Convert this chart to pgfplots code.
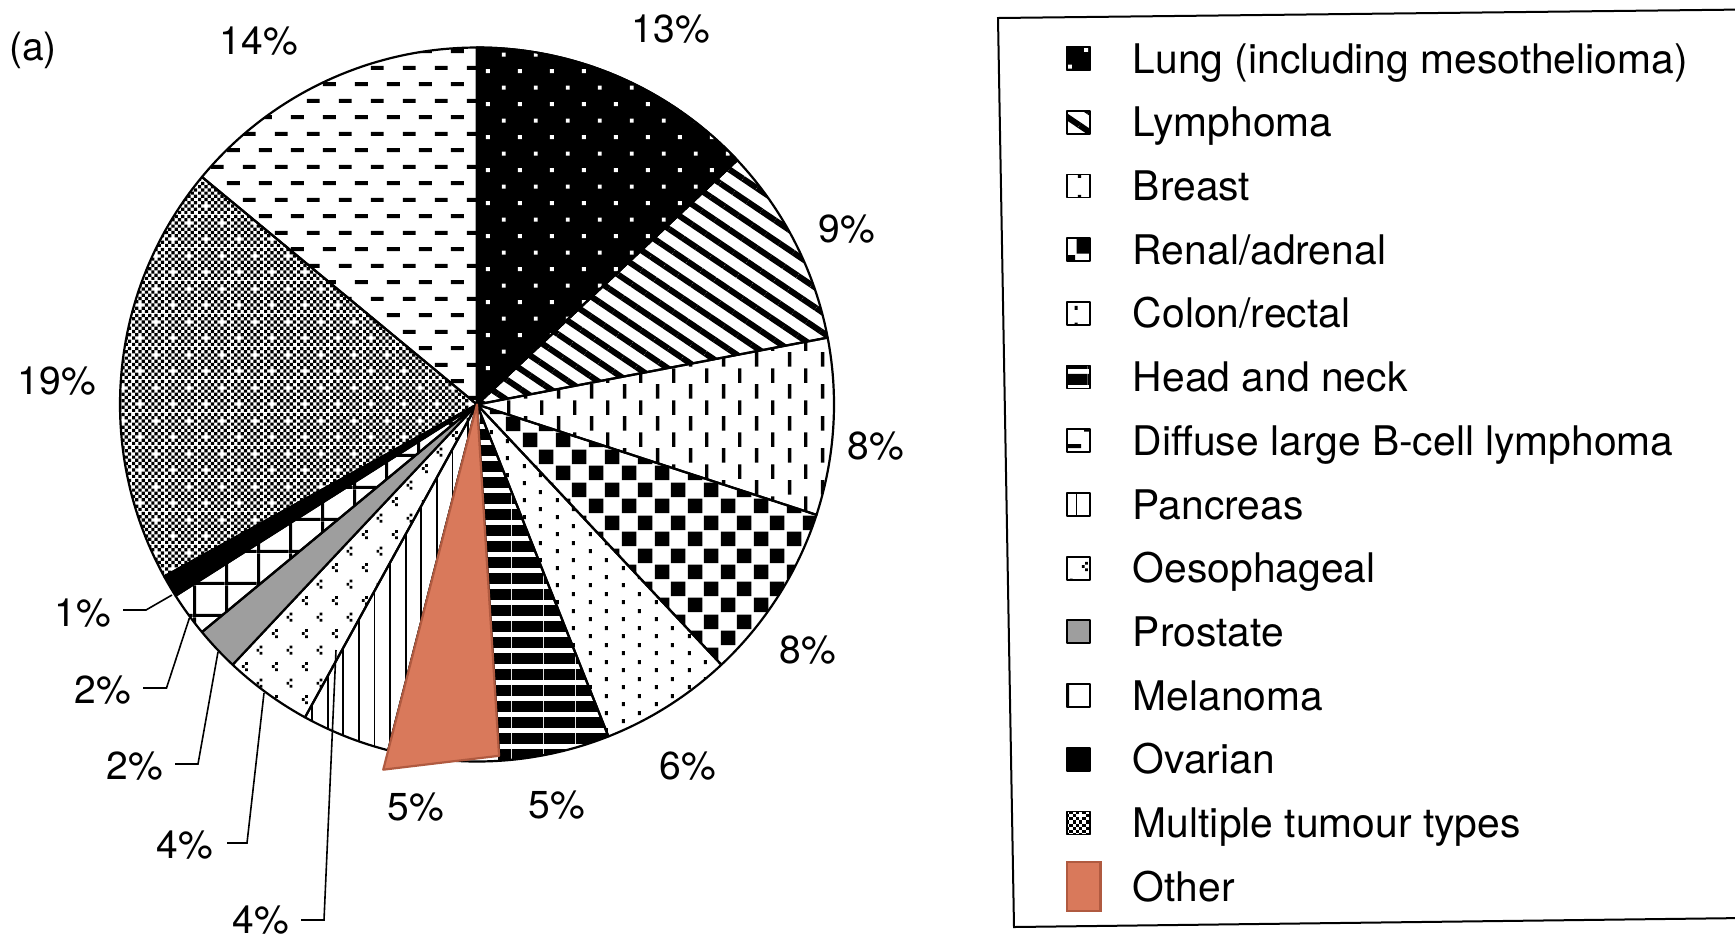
\documentclass[border=0pt]{standalone}
\usepackage{fontspec}
\setmainfont{TeX Gyre Heros}
\usepackage{pgfplots}
\pgfplotsset{compat=1.18}
\usepackage{pgfplotstable}
\usetikzlibrary{patterns,patterns.meta}

\definecolor{otherfill}{RGB}{217,121,91}
\definecolor{otheredge}{RGB}{176,90,64}

% Slice fills (one layout pixel = 0.5pt)
\pgfdeclarepatternformonly{lungdots}{\pgfqpoint{0pt}{0pt}}{\pgfqpoint{16.15pt}{16.7pt}}{\pgfqpoint{16.15pt}{16.7pt}}{%
  \pgfpathrectangle{\pgfqpoint{1pt}{1pt}}{\pgfqpoint{2pt}{2pt}}%
  \pgfpathrectangle{\pgfqpoint{9.07pt}{9.35pt}}{\pgfqpoint{2pt}{2pt}}%
  \pgfusepath{fill}}
\pgfdeclarepatternformonly{vdashes}{\pgfqpoint{0pt}{0pt}}{\pgfqpoint{16.3pt}{15.85pt}}{\pgfqpoint{16.3pt}{15.85pt}}{%
  \pgfpathrectangle{\pgfqpoint{1pt}{0.2pt}}{\pgfqpoint{1.7pt}{7.3pt}}%
  \pgfpathrectangle{\pgfqpoint{9.15pt}{8.1pt}}{\pgfqpoint{1.7pt}{7.3pt}}%
  \pgfusepath{fill}}
\pgfdeclarepatternformonly{checker}{\pgfqpoint{0pt}{0pt}}{\pgfqpoint{16.3pt}{16.3pt}}{\pgfqpoint{16.3pt}{16.3pt}}{%
  \pgfpathrectangle{\pgfqpoint{0.4pt}{0.4pt}}{\pgfqpoint{7.35pt}{7.35pt}}%
  \pgfpathrectangle{\pgfqpoint{8.55pt}{8.55pt}}{\pgfqpoint{7.35pt}{7.35pt}}%
  \pgfusepath{fill}}
\pgfdeclarepatternformonly{smalldots}{\pgfqpoint{0pt}{0pt}}{\pgfqpoint{16.25pt}{8.25pt}}{\pgfqpoint{16.25pt}{8.25pt}}{%
  \pgfpathrectangle{\pgfqpoint{1pt}{1pt}}{\pgfqpoint{1.5pt}{2pt}}%
  \pgfpathrectangle{\pgfqpoint{9.1pt}{5.1pt}}{\pgfqpoint{1.5pt}{2pt}}%
  \pgfusepath{fill}}
\pgfdeclarepatternformonly{hbars}{\pgfqpoint{0pt}{0pt}}{\pgfqpoint{16pt}{8.15pt}}{\pgfqpoint{16pt}{8.15pt}}{%
  \pgfpathrectangle{\pgfqpoint{0pt}{0.6pt}}{\pgfqpoint{16pt}{5.65pt}}%
  \pgfusepath{fill}}
\pgfdeclarepatternformonly{hdashes}{\pgfqpoint{0pt}{0pt}}{\pgfqpoint{16.15pt}{16.3pt}}{\pgfqpoint{16.15pt}{16.3pt}}{%
  \pgfpathrectangle{\pgfqpoint{1pt}{1pt}}{\pgfqpoint{6.6pt}{2pt}}%
  \pgfpathrectangle{\pgfqpoint{9.07pt}{9.15pt}}{\pgfqpoint{6.6pt}{2pt}}%
  \pgfusepath{fill}}
\pgfdeclarepatternformonly{squaregrid}{\pgfqpoint{0pt}{0pt}}{\pgfqpoint{16.15pt}{16.15pt}}{\pgfqpoint{16.15pt}{16.15pt}}{%
  \pgfpathrectangle{\pgfqpoint{0pt}{0pt}}{\pgfqpoint{1.6pt}{16.15pt}}%
  \pgfpathrectangle{\pgfqpoint{0pt}{0pt}}{\pgfqpoint{16.15pt}{1.6pt}}%
  \pgfusepath{fill}}
\pgfdeclarepatternformonly{chevrons}{\pgfqpoint{0pt}{0pt}}{\pgfqpoint{15pt}{16.67pt}}{\pgfqpoint{15pt}{16.67pt}}{%
  \pgfpathrectangle{\pgfqpoint{2.6pt}{1pt}}{\pgfqpoint{1.4pt}{1.4pt}}%
  \pgfpathrectangle{\pgfqpoint{1pt}{2.6pt}}{\pgfqpoint{1.4pt}{1.4pt}}%
  \pgfpathrectangle{\pgfqpoint{2.6pt}{4.2pt}}{\pgfqpoint{1.4pt}{1.4pt}}%
  \pgfpathrectangle{\pgfqpoint{10.1pt}{9.33pt}}{\pgfqpoint{1.4pt}{1.4pt}}%
  \pgfpathrectangle{\pgfqpoint{8.5pt}{10.93pt}}{\pgfqpoint{1.4pt}{1.4pt}}%
  \pgfpathrectangle{\pgfqpoint{10.1pt}{12.53pt}}{\pgfqpoint{1.4pt}{1.4pt}}%
  \pgfusepath{fill}}
\pgfdeclarepatternformonly{finecheck}{\pgfqpoint{0pt}{0pt}}{\pgfqpoint{16.5pt}{16.5pt}}{\pgfqpoint{16.5pt}{16.5pt}}{%
  \foreach \ci in {0,...,9}{%
    \foreach \ck in {0,...,4}{%
      \pgfmathtruncatemacro\cj{2*\ck+mod(\ci,2)}%
      \pgfmathtruncatemacro\cgap{((\ci==2)&&(\cj==2))||((\ci==7)&&(\cj==7))}%
      \ifnum\cgap=0
        \pgfpathrectangle{\pgfpoint{\ci*1.65pt}{\cj*1.65pt}}{\pgfqpoint{1.65pt}{1.65pt}}%
        \pgfusepath{fill}%
      \fi}}}

% Share of each tumour type, in the clockwise order of the slices
\pgfplotstableread{
name         pct
Lung         13
Lymphoma     9
Breast       8
Renal        8
Colon        6
HeadNeck     5
Other        5
Pancreas     4
Oesophageal  4
Prostate     2
Melanoma     2
Ovarian      1
Multiple     19
DLBCL        14
}\slicetable

\pgfplotsset{
  slice/.style={draw=black, line width=1.1pt, line join=round},
  sLung/.style={slice, preaction={fill=black}, pattern=lungdots, pattern color=white},
  sLymphoma/.style={slice, pattern={Lines[angle=-34,distance=8.3pt,line width=3pt]}},
  sBreast/.style={slice, pattern=vdashes},
  sRenal/.style={slice, pattern=checker},
  sColon/.style={slice, pattern=smalldots},
  sHeadNeck/.style={slice, pattern=hbars},
  sOther/.style={slice, fill=white},
  sPancreas/.style={slice, pattern={Lines[angle=90,distance=7.8pt,line width=0.9pt]}},
  sOesophageal/.style={slice, pattern=chevrons},
  sProstate/.style={slice, fill=black!38},
  sMelanoma/.style={slice, pattern=squaregrid},
  sOvarian/.style={slice, fill=black},
  sMultiple/.style={slice, pattern=finecheck},
  sDLBCL/.style={slice, pattern=hdashes},
  % legend swatches: a small square, with the cell kept 33pt wide
  swatch/.style={legend image code/.code={%
    \pgfpathrectangle{\pgfqpoint{0pt}{-5.75pt}}{\pgfqpoint{33pt}{11.5pt}}\pgfusepath{discard}%
    \draw[##1, line width=0.9pt] (0pt,-5.75pt) rectangle (11.5pt,5.75pt);}},
  bigswatch/.style={legend image code/.code={%
    \pgfpathrectangle{\pgfqpoint{0pt}{-5.75pt}}{\pgfqpoint{33pt}{11.5pt}}\pgfusepath{discard}%
    \draw[##1, overlay, line width=1.2pt] (0pt,-12.25pt) rectangle (16.85pt,12.25pt);}},
}

\newcommand\labfont{\fontsize{19.5}{22}\selectfont}
\def\cx{477}
\def\cy{404.5}
\def\rr{357}

\begin{document}
\begin{tikzpicture}
\begin{axis}[
  width=867.5pt, height=469.5pt, scale only axis,
  xmin=0, xmax=1735, ymin=0, ymax=939, y dir=reverse,
  hide axis,
  legend cell align=left,
  legend style={draw=none, fill=none, at={(0.6144,0.95325)}, anchor=north west,
    inner sep=0pt, outer sep=0pt, row sep=17.25pt,
    font=\fontsize{20.4}{24}\selectfont,
    nodes={inner sep=0pt, text height=14.6pt, text depth=0pt}},
  swatch,
]
% slices, clockwise from twelve o'clock
\gdef\startang{0}
\pgfplotsforeachungrouped \i in {0,...,13}{%
  \pgfplotstablegetelem{\i}{pct}\of\slicetable
  \let\thispct\pgfplotsretval
  \pgfplotstablegetelem{\i}{name}\of\slicetable
  \let\thisname\pgfplotsretval
  \pgfmathsetmacro\endang{\startang+3.6*\thispct}%
  \edef\doslice{\noexpand\addplot[s\thisname, domain=\startang:\endang, samples=60,
      variable=\noexpand\t, forget plot]
    ({\cx+\rr*sin(\noexpand\t)}, {\cy-\rr*cos(\noexpand\t)}) -- (axis cs:\cx,\cy) -- cycle;}%
  \doslice
  \ifnum\i=6 \global\let\otherA\startang \global\let\otherB\endang \fi
  \global\let\startang\endang
}
% the highlighted "Other" slice
\pgfmathsetmacro\oxa{\cx+352*sin(\otherA)}
\pgfmathsetmacro\oya{\cy-352*cos(\otherA)}
\pgfmathsetmacro\oxb{\cx+377*sin(\otherB)}
\pgfmathsetmacro\oyb{\cy-377*cos(\otherB)}
\edef\dotri{\noexpand\addplot[fill=otherfill, draw=otheredge, line width=1.1pt, line join=round, forget plot]
  coordinates {(\cx,\cy) (\oxa,\oya) (\oxb,\oyb)} -- cycle;}
\dotri

% legend
\addlegendimage{sLung}\addlegendentry{Lung (including mesothelioma)}
\addlegendimage{sLymphoma}\addlegendentry{Lymphoma}
\addlegendimage{sBreast}\addlegendentry{Breast}
\addlegendimage{sRenal}\addlegendentry{Renal/adrenal}
\addlegendimage{sColon}\addlegendentry{Colon/rectal}
\addlegendimage{sHeadNeck}\addlegendentry{Head and neck}
\addlegendimage{sDLBCL}\addlegendentry{Diffuse large B-cell lymphoma}
\addlegendimage{sPancreas}\addlegendentry{Pancreas}
\addlegendimage{sOesophageal}\addlegendentry{Oesophageal}
\addlegendimage{sProstate}\addlegendentry{Prostate}
\addlegendimage{sMelanoma}\addlegendentry{Melanoma}
\addlegendimage{sOvarian}\addlegendentry{Ovarian}
\addlegendimage{sMultiple}\addlegendentry{Multiple tumour types}
\addlegendimage{fill=otherfill, draw=otheredge, bigswatch}\addlegendentry{Other}

% percentage labels
\node[font=\labfont] at (axis cs:671,29) {13\%};
\node[font=\labfont] at (axis cs:847,229) {9\%};
\node[font=\labfont] at (axis cs:876,446) {8\%};
\node[font=\labfont] at (axis cs:808,650) {8\%};
\node[font=\labfont] at (axis cs:688,766) {6\%};
\node[font=\labfont] at (axis cs:557,805) {5\%};
\node[font=\labfont] at (axis cs:416,807) {5\%};
\node[font=\labfont] at (axis cs:261,920) {4\%};
\node[font=\labfont] at (axis cs:185,845) {4\%};
\node[font=\labfont] at (axis cs:135,766) {2\%};
\node[font=\labfont] at (axis cs:103,690) {2\%};
\node[font=\labfont] at (axis cs:83,613) {1\%};
\node[font=\labfont] at (axis cs:57,381) {19\%};
\node[font=\labfont] at (axis cs:259,41) {14\%};
\node[font=\fontsize{19.5}{23}\selectfont] at (axis cs:33,50) {(a)};

% leader lines for the thin slices
\draw[line width=0.8pt] (axis cs:123,610) -- (axis cs:146,610) -- (axis cs:172,595);
\draw[line width=0.8pt] (axis cs:143,688) -- (axis cs:166.5,688) -- (axis cs:189.4,618);
\draw[line width=0.8pt] (axis cs:175,764) -- (axis cs:198,764) -- (axis cs:218,652);
\draw[line width=0.8pt] (axis cs:227,843) -- (axis cs:247,843) -- (axis cs:264,693);
\draw[line width=0.8pt] (axis cs:301,920) -- (axis cs:324,920) -- (axis cs:336,650);

% legend frame
\draw[line width=1pt] (axis cs:1745,9.5) -- (axis cs:998,18) -- (axis cs:1014,927) -- (axis cs:1745,918);
\end{axis}
\pgfresetboundingbox
\path[use as bounding box] (current axis.south west) rectangle (current axis.north east);
\end{tikzpicture}
\end{document}
